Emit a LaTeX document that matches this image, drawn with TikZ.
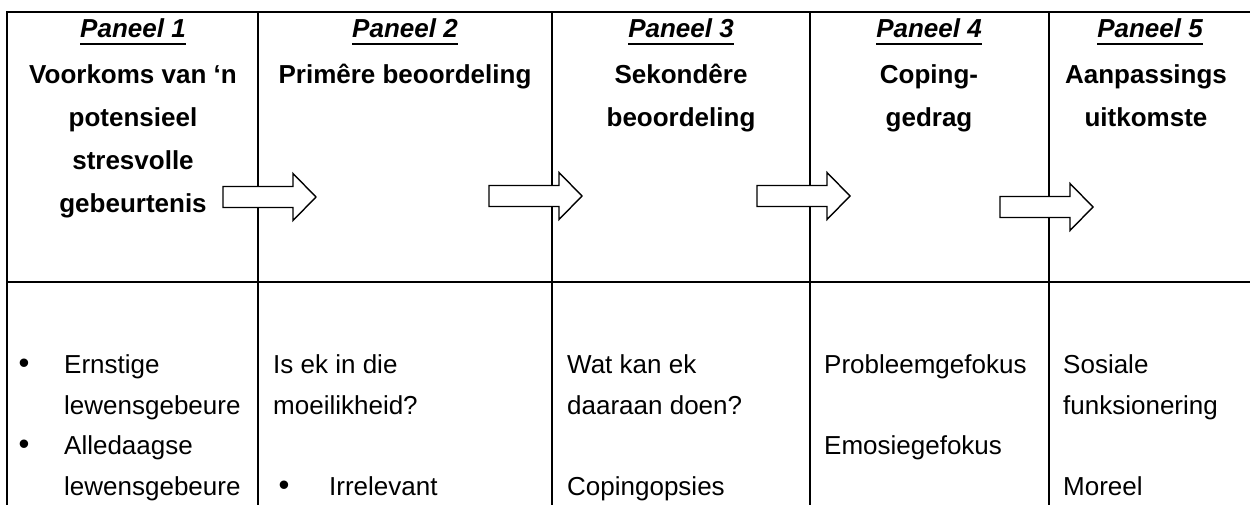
\documentclass[tikz,border=0pt]{standalone}
\usepackage{fontspec}
\setmainfont{Liberation Sans}
\usetikzlibrary{calc}
\begin{document}
\begin{tikzpicture}[x=1pt,y=-1pt,
  rule/.style={line width=2pt},
  headtext/.style={inner sep=0pt, anchor=base, font=\fontsize{26}{30}\selectfont\bfseries},
  paneltitle/.style={inner sep=0pt, anchor=base, font=\fontsize{26}{30}\selectfont\bfseries\itshape},
  titleline/.style={line width=2.8pt},
  bodytext/.style={inner sep=0pt, anchor=base west, font=\fontsize{26}{30}\selectfont},
  bulletmark/.style={inner sep=0pt, anchor=base, font=\fontsize{31}{34}\selectfont},
  flowarrow/.pic={\draw[line width=1.4pt, fill=white, line join=miter]
     (0,-10.5) -- (70,-10.5) -- (70,-23.5) -- (93,0) -- (70,23.5) -- (70,10.5) -- (0,10.5) -- cycle;}
]
\useasboundingbox (0,0) rectangle (1250,505);
\fill[white] (0,0) rectangle (1250,505);

% table rules
\draw[rule] (7,505) -- (7,12) -- (1250,12);
\draw[rule] (7,282) -- (1250,282);
\foreach \x in {258,552,810,1049} \draw[rule] (\x,12) -- (\x,505);

% block arrows between the panels
\pic at (223,197) {flowarrow};
\pic at (489,196) {flowarrow};
\pic at (757,196) {flowarrow};
\pic at (1000,207) {flowarrow};

% panel titles, underlined
\foreach \i/\x in {1/133,2/405,3/681,4/929,5/1150} {
  \node[paneltitle] (p\i) at (\x,38) {Paneel \i};
  \draw[titleline] ($(p\i.base west)+(0,6)$) -- ($(p\i.base east)+(0,6)$);
}

% panel headings
\node[headtext] (h1a) at (133,84)  {Voorkoms van ‘n};
\node[headtext] (h1b) at (133,127) {potensieel};
\node[headtext] (h1c) at (133,170) {stresvolle};
\node[headtext] (h1d) at (133,213) {gebeurtenis};
\node[headtext] (h2a) at (405,84)  {Primêre beoordeling};
\node[headtext] (h3a) at (681,84)  {Sekondêre};
\node[headtext] (h3b) at (681,127) {beoordeling};
\node[headtext] (h4a) at (929,84)  {Coping-};
\node[headtext] (h4b) at (929,127) {gedrag};
\node[headtext] (h5a) at (1146,84) {Aanpassings};
\node[headtext] (h5b) at (1146,127){uitkomste};

% lower row, panel 1
\node[bulletmark] (b1a) at (24,373) {•};
\node[bodytext] (t1a) at (64,373) {Ernstige};
\node[bodytext] (t1b) at (64,414) {lewensgebeure};
\node[bulletmark] (b1b) at (24,454) {•};
\node[bodytext] (t1c) at (64,454) {Alledaagse};
\node[bodytext] (t1d) at (64,495) {lewensgebeure};

% lower row, panel 2
\node[bodytext] (t2a) at (273,373) {Is ek in die};
\node[bodytext] (t2b) at (273,414) {moeilikheid?};
\node[bulletmark] (b2a) at (284,495) {•};
\node[bodytext] (t2c) at (329,495) {Irrelevant};

% lower row, panel 3
\node[bodytext] (t3a) at (567,373) {Wat kan ek};
\node[bodytext] (t3b) at (567,414) {daaraan doen?};
\node[bodytext] (t3c) at (567,495) {Copingopsies};

% lower row, panel 4
\node[bodytext] (t4a) at (824,373) {Probleemgefokus};
\node[bodytext] (t4b) at (824,454) {Emosiegefokus};

% lower row, panel 5
\node[bodytext] (t5a) at (1063,373) {Sosiale};
\node[bodytext] (t5b) at (1063,414) {funksionering};
\node[bodytext] (t5c) at (1063,495) {Moreel};
\end{tikzpicture}
\end{document}
